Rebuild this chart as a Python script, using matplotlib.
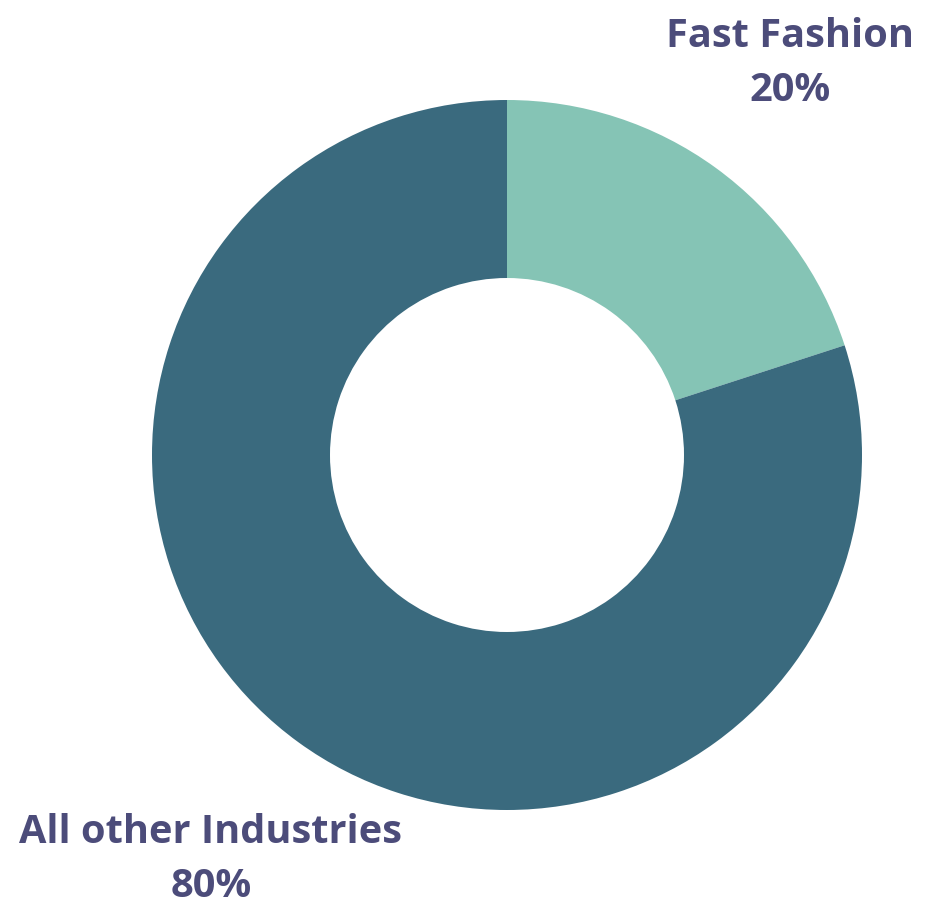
import matplotlib.pyplot as plt

labels = ['Fast Fashion', 'All other Industries']
values = [20, 80]
pct_labels = ['20%', '80%']
colors = ['#85C4B5', '#3A6A7E']
text_color = '#4C4C7A'

fig = plt.figure(figsize=(9.28, 9.16), dpi=100)
ax = fig.add_axes([0, 0, 1, 1])

# donut, clockwise from the top (y axis is inverted below)
ax.pie(values, colors=colors, startangle=-90, counterclock=True,
       center=(507, 455), radius=355,
       wedgeprops=dict(width=178, linewidth=0))
ax.set_xlim(0, 928)
ax.set_ylim(916, 0)
ax.set_aspect('equal')
ax.axis('off')

font = dict(family=['Open Sans', 'DejaVu Sans'], weight='bold', size=28.6,
            color=text_color, ha='center', va='center')
ax.text(790, 36, labels[0], **font)
ax.text(790, 90, pct_labels[0], **font)
ax.text(211, 833, labels[1], **font)
ax.text(211, 887, pct_labels[1], **font)

plt.savefig('out.png', dpi=100)
